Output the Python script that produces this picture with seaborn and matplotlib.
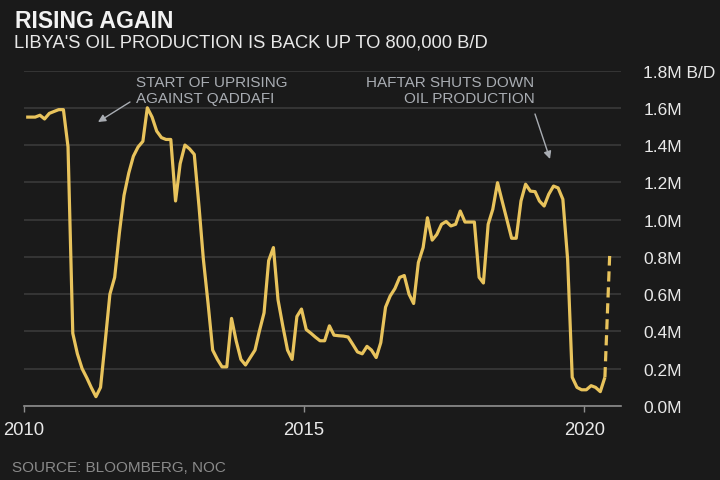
import matplotlib
matplotlib.use("Agg")
import matplotlib.pyplot as plt
import matplotlib.dates as mdates
import seaborn as sns
import pandas as pd

# ---- data (million barrels per day, monthly, Jan 2010 - Jun 2020) ----
start_month = "2010-01-01"
production = [
    1.55, 1.55, 1.55, 1.56, 1.54, 1.57, 1.58, 1.59, 1.59, 1.39,   # 2010
    0.39, 0.28, 0.20, 0.15, 0.10, 0.05, 0.10, 0.35, 0.60, 0.69,
    0.93, 1.13, 1.25, 1.34, 1.39, 1.42, 1.60, 1.55, 1.475, 1.44,
    1.43, 1.43, 1.10, 1.30, 1.40, 1.38, 1.35, 1.07, 0.79, 0.55,
    0.30, 0.25, 0.21, 0.21, 0.47, 0.35, 0.25, 0.22, 0.26, 0.30,
    0.40, 0.50, 0.78, 0.85, 0.57, 0.43, 0.30, 0.25, 0.48, 0.52,
    0.41, 0.39, 0.37, 0.35, 0.35, 0.43, 0.38, 0.377, 0.375, 0.37,
    0.33, 0.29, 0.28, 0.32, 0.30, 0.26, 0.34, 0.53, 0.59, 0.63,
    0.69, 0.70, 0.60, 0.55, 0.77, 0.85, 1.01, 0.89, 0.92, 0.975,
    0.99, 0.966, 0.975, 1.046, 0.987, 0.987, 0.987, 0.69, 0.66, 0.975,
    1.055, 1.198, 1.10, 1.00, 0.90, 0.90, 1.10, 1.19, 1.153, 1.15,
    1.10, 1.073, 1.136, 1.18, 1.17, 1.109, 0.787, 0.154, 0.10, 0.087,
    0.087, 0.109, 0.10, 0.077, 0.154, 0.805,
]
n_estimated = 1  # last value is the preliminary (dashed) reading

y_ticks = [0.0, 0.2, 0.4, 0.6, 0.8, 1.0, 1.2, 1.4, 1.6, 1.8]
y_tick_labels = ["0.0M", "0.2M", "0.4M", "0.6M", "0.8M", "1.0M",
                 "1.2M", "1.4M", "1.6M", "1.8M B/D"]

title = "RISING AGAIN"
subtitle = "LIBYA'S OIL PRODUCTION IS BACK UP TO 800,000 B/D"
source = "SOURCE: BLOOMBERG, NOC"
note1 = ["START OF UPRISING", "AGAINST QADDAFI"]
note2 = ["HAFTAR SHUTS DOWN", "OIL PRODUCTION"]

# ---- styling ----
BG = "#1a1a1a"
LINE = "#e8c35c"
GRID = "#3a3a3a"
AXIS = "#8e8e8e"
TXT = "#e8e8e8"
NOTE = "#a9adb3"
SRC = "#8a8a8a"

sns.set_theme(style="dark", rc={
    "figure.facecolor": BG, "axes.facecolor": BG, "savefig.facecolor": BG,
    "axes.edgecolor": AXIS, "grid.color": GRID,
})
plt.rcParams["font.family"] = ["Liberation Sans", "DejaVu Sans"]

dates = pd.date_range(start_month, periods=len(production), freq="MS") + pd.Timedelta(days=14)
df = pd.DataFrame({"date": dates, "value": production})
solid = df.iloc[: len(df) - n_estimated]
dashed = df.iloc[len(df) - n_estimated - 1:]

fig = plt.figure(figsize=(7.2, 4.81), dpi=100)
ax = fig.add_axes([24 / 720, 1 - 407 / 481, (621 - 24) / 720, (407 - 71.5) / 481])

sns.lineplot(data=solid, x="date", y="value", ax=ax, color=LINE, lw=2.3,
             solid_capstyle="butt")
sns.lineplot(data=dashed, x="date", y="value", ax=ax, color=LINE, lw=2.3,
             linestyle=(0, (3.2, 1.8)))

ax.set_xlim(pd.Timestamp("2010-01-01"), pd.Timestamp("2020-08-28"))
ax.set_ylim(0, 1.8)
ax.set_xlabel("")
ax.set_ylabel("")

ax.set_yticks(y_ticks)
ax.set_yticklabels(y_tick_labels)
ax.yaxis.tick_right()
ax.tick_params(axis="y", length=0, pad=16, labelsize=12.5, labelcolor=TXT)
ax.yaxis.grid(True, color=GRID, lw=1.2)
ax.xaxis.grid(False)

ax.xaxis.set_major_locator(mdates.YearLocator(5))
ax.xaxis.set_major_formatter(mdates.DateFormatter("%Y"))
ax.tick_params(axis="x", length=4, width=1, color=AXIS, pad=7,
               labelsize=13.3, labelcolor=TXT, bottom=True)

for s in ["top", "right", "left"]:
    ax.spines[s].set_visible(False)
ax.spines["bottom"].set_color(AXIS)
ax.spines["bottom"].set_linewidth(1.2)

# ---- titles ----
fig.text(14.5 / 720, 1 - 27.7 / 481, title, fontsize=16.6, fontweight="bold",
         color="#f2f2f2", va="baseline", ha="left")
fig.text(14 / 720, 1 - 47 / 481, subtitle, fontsize=13.25, color=TXT,
         va="baseline", ha="left")
fig.text(12 / 720, 1 - 472.5 / 481, source, fontsize=11, color=SRC,
         va="baseline", ha="left")

# ---- annotations ----
for i, line in enumerate(note1):
    fig.text(135.5 / 720, 1 - (87 + 16.3 * i) / 481, line, fontsize=11,
             color=NOTE, va="baseline", ha="left")
for i, line in enumerate(note2):
    fig.text(534.5 / 720, 1 - (87 + 16.3 * i) / 481, line, fontsize=11,
             color=NOTE, va="baseline", ha="right")

arrow = dict(arrowstyle="-|>", color=NOTE, lw=1.0, mutation_scale=11,
             shrinkA=0, shrinkB=0)
ax.annotate("", xy=(98 / 720, 1 - 123 / 481), xycoords="figure fraction",
            xytext=(130 / 720, 1 - 103 / 481), textcoords="figure fraction",
            arrowprops=arrow)
ax.annotate("", xy=(550 / 720, 1 - 160 / 481), xycoords="figure fraction",
            xytext=(535 / 720, 1 - 115 / 481), textcoords="figure fraction",
            arrowprops=arrow)

fig.savefig("out.png", dpi=100, facecolor=BG)
